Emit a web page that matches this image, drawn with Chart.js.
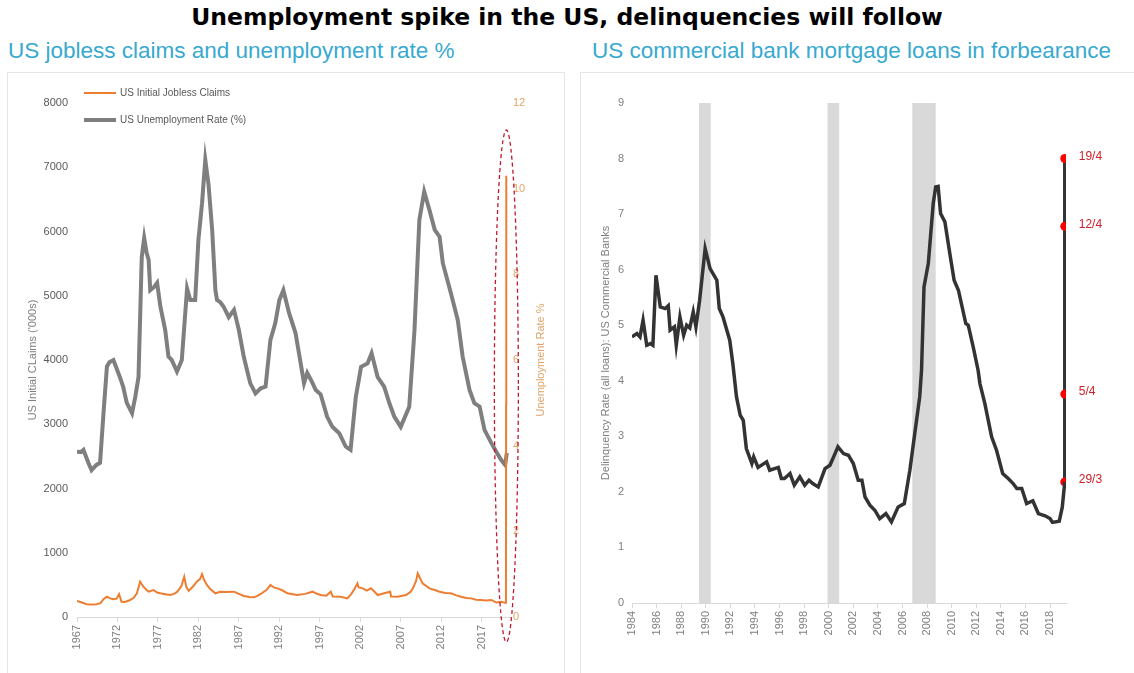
<!DOCTYPE html>
<html>
<head>
<meta charset="utf-8">
<script src="https://cdn.jsdelivr.net/npm/chart.js@4.4.1/dist/chart.umd.min.js"></script>
<style>
  body { margin: 0; width: 1134px; height: 673px; background: #fff; position: relative; overflow: hidden; font-family: "Liberation Sans", Arial, sans-serif; }
  #title { position: absolute; left: 0; top: 3px; width: 1134px; text-align: center; font: bold 23.5px "DejaVu Sans", Verdana, sans-serif; color: #000; }
  .sub { position: absolute; top: 38px; font-size: 22.5px; color: #38a9cf; white-space: nowrap; }
  .panel { position: absolute; top: 72px; height: 620px; border: 1px solid #e6e6e6; }
  canvas { position: absolute; top: 73px; }
</style>
</head>
<body>
<div id="title">Unemployment spike in the US, delinquencies will follow</div>
<div class="sub" style="left:8px">US jobless claims and unemployment rate %</div>
<div class="sub" style="left:592px">US commercial bank mortgage loans in forbearance</div>
<div class="panel" style="left:7px;width:556px"></div>
<div class="panel" style="left:580px;width:560px"></div>
<canvas id="left" width="555" height="600" style="left:8px"></canvas>
<canvas id="right" width="553" height="600" style="left:581px"></canvas>
<script>
// ---- left chart: jobless claims ('000s) and unemployment rate (%)
const claimYears = [1967.0, 1967.6, 1968.2, 1968.8, 1969.4, 1969.9, 1970.3, 1970.7, 1971.1, 1971.5, 1971.9, 1972.2, 1972.5, 1972.9, 1973.5, 1974.0, 1974.4, 1974.8, 1975.2, 1975.6, 1975.85, 1976.45, 1976.9, 1977.3, 1977.9, 1978.5, 1979.0, 1979.4, 1979.9, 1980.25, 1980.5, 1980.8, 1981.3, 1981.8, 1982.2, 1982.45, 1982.7, 1983.05, 1983.5, 1984.1, 1984.7, 1985.5, 1986.4, 1987.0, 1987.6, 1988.3, 1988.85, 1989.3, 1989.7, 1990.4, 1990.9, 1991.3, 1991.75, 1992.3, 1993.0, 1994.2, 1995.2, 1996.1, 1996.6, 1997.1, 1997.8, 1998.35, 1998.6, 1999.6, 2000.4, 2000.9, 2001.3, 2001.65, 2001.8, 2002.3, 2002.8, 2003.3, 2003.7, 2004.15, 2004.95, 2005.7, 2005.8, 2006.6, 2007.65, 2008.2, 2008.5, 2008.9, 2009.1, 2009.4, 2009.7, 2010.55, 2011.2, 2011.8, 2012.5, 2013.2, 2013.8, 2014.45, 2015.1, 2015.7, 2016.3, 2016.9, 2017.5, 2018.2, 2018.8, 2019.4, 2019.9, 2020.0, 2020.02, 2020.04];
const claims = [250, 225, 200, 195, 200, 215, 280, 316, 290, 275, 285, 358, 238, 235, 260, 300, 369, 550, 472, 420, 394, 420, 380, 369, 355, 342, 360, 394, 480, 627, 470, 405, 470, 550, 590, 669, 580, 498, 430, 369, 394, 390, 394, 360, 327, 310, 306, 330, 358, 420, 498, 460, 446, 420, 369, 342, 360, 394, 365, 342, 330, 394, 320, 316, 290, 360, 440, 524, 460, 446, 410, 446, 400, 342, 369, 394, 320, 316, 342, 390, 446, 560, 680, 600, 524, 446, 420, 394, 375, 369, 340, 316, 295, 290, 270, 265, 255, 265, 225, 238, 220, 282, 3307, 6867];

const rateYears = [1967.0, 1967.5, 1967.8, 1968.4, 1968.8, 1969.4, 1969.85, 1970.3, 1970.7, 1971.0, 1971.5, 1972.0, 1972.3, 1972.7, 1973.15, 1973.8, 1974.2, 1974.6, 1975.0, 1975.3, 1975.6, 1975.85, 1976.05, 1976.5, 1976.9, 1977.3, 1977.9, 1978.3, 1978.7, 1979.35, 1979.95, 1980.6, 1981.0, 1981.6, 1982.0, 1982.45, 1982.85, 1983.25, 1983.7, 1984.1, 1984.3, 1984.7, 1985.1, 1985.75, 1986.4, 1987.0, 1987.6, 1988.4, 1989.05, 1989.7, 1990.3, 1990.9, 1991.5, 1992.0, 1992.5, 1993.2, 1994.0, 1995.05, 1995.45, 1996.0, 1996.5, 1997.1, 1997.9, 1998.55, 1999.4, 2000.2, 2000.8, 2001.45, 2002.1, 2002.9, 2003.4, 2004.15, 2004.95, 2005.6, 2006.2, 2007.0, 2008.05, 2008.7, 2009.3, 2009.9, 2010.55, 2011.2, 2011.8, 2012.2, 2013.2, 2014.05, 2014.65, 2015.5, 2016.1, 2016.75, 2017.35, 2018.2, 2018.8, 2019.4, 2019.9, 2020.1];
const rates = [3.86, 3.85, 3.9, 3.6, 3.43, 3.55, 3.6, 4.83, 5.85, 5.95, 6.0, 5.75, 5.6, 5.38, 5.0, 4.76, 5.14, 5.6, 8.4, 8.85, 8.5, 8.34, 7.63, 7.7, 7.8, 7.25, 6.7, 6.08, 6.0, 5.73, 6.0, 7.67, 7.4, 7.4, 8.8, 9.66, 10.67, 10.1, 9.04, 7.63, 7.4, 7.35, 7.25, 7.0, 7.17, 6.7, 6.08, 5.46, 5.22, 5.34, 5.38, 6.47, 6.86, 7.4, 7.63, 7.1, 6.63, 5.46, 5.7, 5.5, 5.3, 5.2, 4.68, 4.44, 4.29, 3.98, 3.9, 5.14, 5.84, 5.92, 6.16, 5.6, 5.38, 4.99, 4.68, 4.44, 4.91, 6.7, 9.27, 9.93, 9.5, 9.04, 8.88, 8.26, 7.56, 6.93, 6.08, 5.3, 4.99, 4.91, 4.37, 4.06, 3.86, 3.67, 3.55, 3.83];

const leftYearTicks = [1967, 1972, 1977, 1982, 1987, 1992, 1997, 2002, 2007, 2012, 2017];

// ---- right chart: delinquency rate (%) and forbearance readings
const delinqYears = [1984.0, 1984.4, 1984.65, 1984.9, 1985.2, 1985.5, 1985.7, 1985.95, 1986.3, 1986.7, 1986.95, 1987.1, 1987.45, 1987.6, 1987.9, 1988.2, 1988.45, 1988.7, 1988.98, 1989.2, 1989.5, 1989.95, 1990.35, 1990.9, 1991.1, 1991.4, 1991.95, 1992.2, 1992.5, 1992.8, 1993.05, 1993.3, 1993.75, 1993.9, 1994.25, 1994.95, 1995.2, 1995.9, 1996.15, 1996.4, 1996.85, 1997.2, 1997.65, 1998.05, 1998.4, 1998.7, 1999.15, 1999.7, 2000.1, 2000.4, 2000.75, 2001.2, 2001.6, 2002.0, 2002.4, 2002.7, 2002.95, 2003.35, 2003.75, 2004.15, 2004.65, 2005.1, 2005.65, 2006.15, 2006.6, 2007.0, 2007.4, 2007.55, 2007.75, 2008.1, 2008.5, 2008.7, 2008.9, 2009.1, 2009.45, 2009.85, 2010.2, 2010.55, 2011.15, 2011.35, 2011.75, 2012.15, 2012.3, 2012.7, 2013.25, 2013.65, 2014.15, 2014.6, 2015.0, 2015.3, 2015.7, 2016.1, 2016.6, 2017.05, 2017.6, 2018.0, 2018.2, 2018.75, 2019.0, 2019.2];
const delinq = [4.79, 4.85, 4.79, 5.09, 4.64, 4.67, 4.64, 5.9, 5.33, 5.3, 5.35, 4.91, 4.97, 4.64, 5.15, 4.82, 5.0, 4.95, 5.24, 4.97, 5.45, 6.38, 6.02, 5.81, 5.3, 5.15, 4.73, 4.31, 3.71, 3.38, 3.29, 2.78, 2.51, 2.63, 2.44, 2.54, 2.39, 2.44, 2.24, 2.24, 2.33, 2.12, 2.27, 2.12, 2.21, 2.15, 2.09, 2.42, 2.48, 2.63, 2.81, 2.69, 2.66, 2.51, 2.21, 2.21, 1.91, 1.76, 1.67, 1.52, 1.61, 1.46, 1.73, 1.79, 2.39, 3.05, 3.71, 4.19, 5.69, 6.11, 7.19, 7.49, 7.5, 7.01, 6.86, 6.29, 5.81, 5.63, 5.03, 5.0, 4.61, 4.19, 3.95, 3.59, 2.99, 2.75, 2.33, 2.24, 2.15, 2.06, 2.06, 1.79, 1.84, 1.61, 1.57, 1.52, 1.45, 1.47, 1.73, 2.18];

const forbearDates = ['29/3', '5/4', '12/4', '19/4'];
const forbearVals = [2.18, 3.76, 6.78, 8.0];
const forbearYear = 2019.2;

const recStart = [1989.45, 1999.9, 2006.8];
const recEnd = [1990.4, 2000.85, 2008.7];

const rightYearTicks = [1984, 1986, 1988, 1990, 1992, 1994, 1996, 1998, 2000, 2002, 2004, 2006, 2008, 2010, 2012, 2014, 2016, 2018];

const FONT = '"Liberation Sans", Arial, sans-serif';
const pairs = (xs, ys) => xs.map((x, i) => ({ x: x, y: ys[i] }));

// legend, right-axis title and the dashed ellipse for the left chart
const leftExtras = {
  id: 'leftExtras',
  afterDatasetsDraw(chart) {
    const { ctx, scales } = chart;
    const cx = scales.x.getPixelForValue(2020.05);
    const top = scales.y.getPixelForValue(7580);
    const bot = scales.y.getPixelForValue(-390);
    ctx.save();
    ctx.strokeStyle = '#c0182e';
    ctx.lineWidth = 1.3;
    ctx.setLineDash([4, 3]);
    ctx.beginPath();
    ctx.ellipse(cx, (top + bot) / 2, 12, (bot - top) / 2, 0, 0, Math.PI * 2);
    ctx.stroke();
    ctx.restore();
  },
  afterDraw(chart) {
    const ctx = chart.ctx;
    const ds = chart.data.datasets;
    ctx.save();
    ctx.font = '10px ' + FONT;
    ctx.textBaseline = 'middle';
    ds.forEach((d, i) => {
      const y = 20 + i * 27;
      ctx.strokeStyle = d.borderColor;
      ctx.lineWidth = d.borderWidth;
      ctx.beginPath();
      ctx.moveTo(76, y);
      ctx.lineTo(108, y);
      ctx.stroke();
      ctx.fillStyle = '#595959';
      ctx.fillText(d.label, 112, y);
    });
    // right axis title, reading bottom to top
    const a = chart.chartArea;
    ctx.translate(533, (a.top + a.bottom) / 2);
    ctx.rotate(-Math.PI / 2);
    ctx.textAlign = 'center';
    ctx.font = '11px ' + FONT;
    ctx.fillStyle = '#dfa46c';
    ctx.fillText('Unemployment Rate %', 0, 0);
    ctx.restore();
  }
};

new Chart(document.getElementById('left').getContext('2d'), {
  type: 'line',
  data: {
    datasets: [{
      label: 'US Initial Jobless Claims',
      data: pairs(claimYears, claims),
      yAxisID: 'y',
      borderColor: '#ed7d31',
      borderWidth: 2,
      pointRadius: 0,
      tension: 0
    }, {
      label: 'US Unemployment Rate (%)',
      data: pairs(rateYears, rates),
      yAxisID: 'y1',
      borderColor: '#7f7f7f',
      borderWidth: 4,
      pointRadius: 0,
      tension: 0
    }]
  },
  options: {
    responsive: false,
    animation: false,
    layout: { padding: { top: 30, left: 0, right: 0, bottom: 0 } },
    plugins: { legend: { display: false }, tooltip: { enabled: false } },
    scales: {
      x: {
        type: 'linear', min: 1967, max: 2020.5,
        afterBuildTicks: s => { s.ticks = leftYearTicks.map(v => ({ value: v })); },
        afterFit: s => { s.height = 56; },
        ticks: { autoSkip: false, minRotation: 90, maxRotation: 90, padding: 3, color: '#808080', font: { family: FONT, size: 11 }, callback: v => String(v) },
        grid: { drawOnChartArea: false, tickLength: 5, color: '#d9d9d9' },
        border: { color: '#d9d9d9' }
      },
      y: {
        position: 'left', min: 0, max: 8000,
        afterFit: s => { s.width = 69; },
        ticks: { stepSize: 1000, padding: 9, color: '#595959', font: { family: FONT, size: 11 }, callback: v => String(v) },
        grid: { display: false, drawTicks: false },
        border: { display: false },
        title: { display: true, text: "US Initial CLaims ('000s)", color: '#7f7f7f', font: { family: FONT, size: 11 }, padding: { top: 18, bottom: 0 } }
      },
      y1: {
        position: 'right', min: 0, max: 12,
        afterFit: s => { s.width = 53; },
        ticks: { stepSize: 2, padding: 3, color: '#e3a468', font: { family: FONT, size: 11 } },
        grid: { display: false, drawTicks: false },
        border: { display: false }
      }
    }
  },
  plugins: [leftExtras]
});

// recession shading and date labels for the right chart
const rightExtras = {
  id: 'rightExtras',
  beforeDatasetsDraw(chart) {
    const { ctx, scales } = chart;
    const y0 = scales.y.getPixelForValue(0);
    const y9 = scales.y.getPixelForValue(9);
    ctx.save();
    ctx.fillStyle = '#d9d9d9';
    recStart.forEach((s, i) => {
      const x0 = scales.x.getPixelForValue(s);
      const x1 = scales.x.getPixelForValue(recEnd[i]);
      ctx.fillRect(x0, y9, x1 - x0, y0 - y9);
    });
    ctx.restore();
  },
  afterDatasetsDraw(chart) {
    const ctx = chart.ctx;
    const meta = chart.getDatasetMeta(1);
    ctx.save();
    ctx.font = '12px ' + FONT;
    ctx.fillStyle = '#d0202a';
    ctx.textBaseline = 'middle';
    meta.data.forEach((p, i) => {
      ctx.fillText(forbearDates[i], p.x + 14, p.y - 2);
    });
    ctx.restore();
  }
};

new Chart(document.getElementById('right').getContext('2d'), {
  type: 'line',
  data: {
    datasets: [{
      label: 'Delinquency rate',
      data: pairs(delinqYears, delinq),
      borderColor: '#333333',
      borderWidth: 3.5,
      pointRadius: 0,
      tension: 0
    }, {
      label: 'Forbearance',
      data: forbearVals.map(v => ({ x: forbearYear, y: v })),
      borderColor: '#333333',
      borderWidth: 3.5,
      pointRadius: 4.5,
      pointBackgroundColor: '#ff0000',
      pointBorderColor: '#ff0000',
      pointBorderWidth: 0,
      tension: 0
    }]
  },
  options: {
    responsive: false,
    animation: false,
    layout: { padding: { top: 30, left: 0, right: 68, bottom: 0 } },
    plugins: { legend: { display: false }, tooltip: { enabled: false } },
    scales: {
      x: {
        type: 'linear', min: 1984, max: 2019.3,
        afterBuildTicks: s => { s.ticks = rightYearTicks.map(v => ({ value: v })); },
        afterFit: s => { s.height = 70; },
        ticks: { autoSkip: false, minRotation: 90, maxRotation: 90, padding: 3, color: '#808080', font: { family: FONT, size: 11 }, callback: v => String(v) },
        grid: { drawOnChartArea: false, tickLength: 5, color: '#d9d9d9' },
        border: { color: '#d9d9d9' }
      },
      y: {
        min: 0, max: 9,
        afterFit: s => { s.width = 51; },
        ticks: { stepSize: 1, padding: 8, color: '#808080', font: { family: FONT, size: 11 } },
        grid: { display: false, drawTicks: false },
        border: { display: false },
        title: { display: true, text: 'Delinquency Rate (all loans): US Commercial Banks', color: '#7f7f7f', font: { family: FONT, size: 11 }, padding: { top: 18, bottom: 0 } }
      }
    }
  },
  plugins: [rightExtras]
});
</script>
</body>
</html>
